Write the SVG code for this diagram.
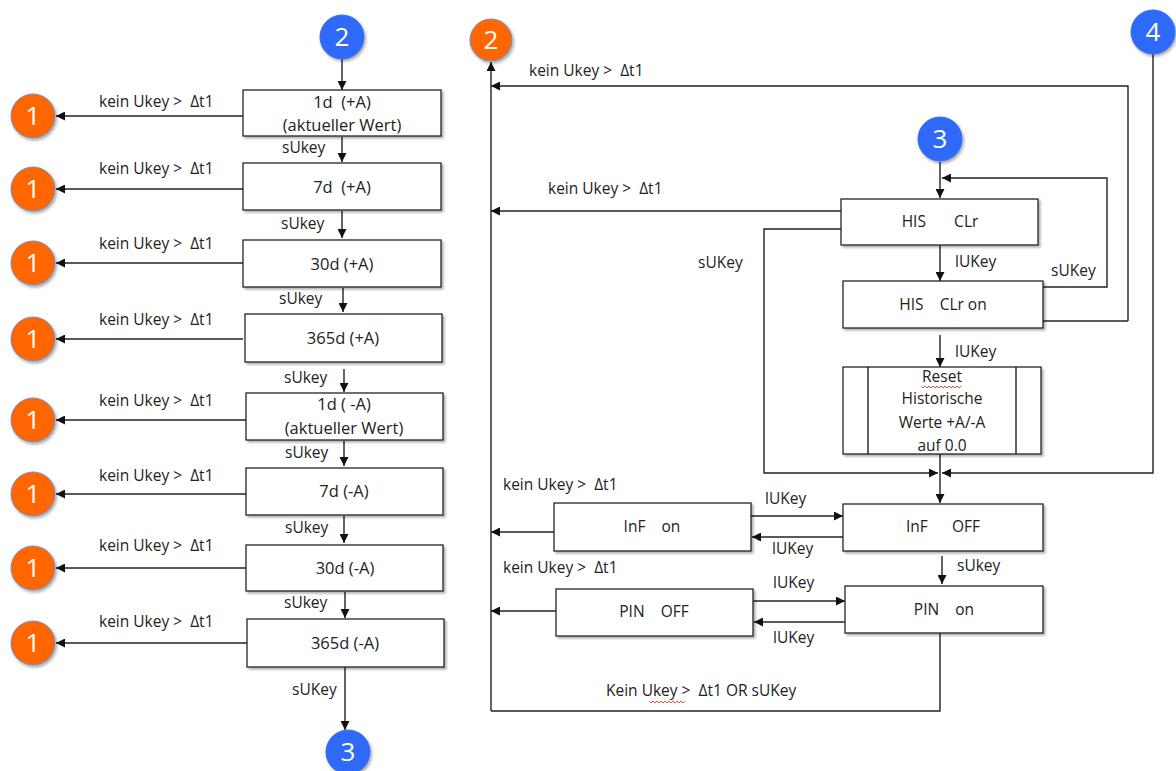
<svg xmlns="http://www.w3.org/2000/svg" width="1176" height="771" viewBox="0 0 1176 771">
<defs>
<marker id="ah" viewBox="0 0 10 10" refX="10" refY="5" markerWidth="9" markerHeight="9" markerUnits="userSpaceOnUse" orient="auto"><path d="M0,0 L10,5 L0,10 z" fill="#111"/></marker>
<filter id="sh" x="-5%" y="-10%" width="115%" height="130%"><feDropShadow dx="2" dy="2" stdDeviation="1.2" flood-color="#000" flood-opacity="0.3"/></filter>
<filter id="csh" x="-20%" y="-20%" width="150%" height="150%"><feDropShadow dx="1.5" dy="2" stdDeviation="1.5" flood-color="#000" flood-opacity="0.35"/></filter>
</defs>
<style>
.box{fill:#fff;stroke:#222;stroke-width:1.3;filter:url(#sh)}
.t{font-family:"Open Sans","Liberation Sans",Arial,sans-serif;font-size:15.5px;fill:#222}
.b{font-size:16.5px}
.c{text-anchor:middle}
.ln{fill:none;stroke:#222;stroke-width:1.4}
.ar{fill:none;stroke:#222;stroke-width:1.4;marker-end:url(#ah)}
.ob{fill:#ff6600;stroke:#6f8fc9;stroke-width:1;filter:url(#csh)}
.bb{fill:#2f6bf7;stroke:#2f6bf7;stroke-width:1;filter:url(#csh)}
.ct{font-family:"Open Sans","Liberation Sans",Arial,sans-serif;font-size:26px;fill:#fff;text-anchor:middle}
.sq{fill:none;stroke:#e02020;stroke-width:0.8}
</style>
<g id="connectors">
<path class="ar" d="M342,59 V90"/>
<path class="ar" d="M342,137 V162"/>
<path class="ar" d="M342,211 V238"/>
<path class="ar" d="M343,288 V312"/>
<path class="ar" d="M344,369 V392"/>
<path class="ar" d="M344,441 V466"/>
<path class="ar" d="M344,516 V543"/>
<path class="ar" d="M345,592 V618"/>
<path class="ar" d="M345,667 V730"/>
<path class="ar" d="M243,116 H56"/>
<path class="ar" d="M243,189 H56"/>
<path class="ar" d="M243,263 H56"/>
<path class="ar" d="M243,339 H56"/>
<path class="ar" d="M246,420 H56"/>
<path class="ar" d="M246,494 H56"/>
<path class="ar" d="M246,568 H56"/>
<path class="ar" d="M247,643 H56"/>
<path class="ar" d="M491,711 V62"/>
<path class="ar" d="M1128,321 V86 H491"/>
<path class="ln" d="M1043,321 H1128"/>
<path class="ar" d="M940,162 V198"/>
<path class="ar" d="M1043,287 H1107 V178 H942"/>
<path class="ar" d="M841,211 H491"/>
<path class="ar" d="M841,229 H764 V473 H938"/>
<path class="ar" d="M1153,54 V473 H942"/>
<path class="ar" d="M940,245 V281"/>
<path class="ar" d="M940,335 V367"/>
<path class="ar" d="M940,454 V503"/>
<path class="ar" d="M751,516 H843"/>
<path class="ar" d="M843,537 H752"/>
<path class="ar" d="M554,532 H491"/>
<path class="ar" d="M942,556 V584"/>
<path class="ar" d="M753,601 H845"/>
<path class="ar" d="M845,622 H754"/>
<path class="ar" d="M556,611 H491"/>
<path class="ln" d="M940,633 V711 H491"/>
</g>
<g id="edge-labels">
<text class="t" x="99" y="107">kein Ukey &gt;&#160; Δt1</text>
<text class="t" x="99" y="174">kein Ukey &gt;&#160; Δt1</text>
<text class="t" x="99" y="249">kein Ukey &gt;&#160; Δt1</text>
<text class="t" x="99" y="325">kein Ukey &gt;&#160; Δt1</text>
<text class="t" x="99" y="406">kein Ukey &gt;&#160; Δt1</text>
<text class="t" x="99" y="481">kein Ukey &gt;&#160; Δt1</text>
<text class="t" x="99" y="551">kein Ukey &gt;&#160; Δt1</text>
<text class="t" x="99" y="627">kein Ukey &gt;&#160; Δt1</text>
<text class="t" x="282" y="153">sUkey</text>
<text class="t" x="281" y="229">sUkey</text>
<text class="t" x="279" y="304">sUkey</text>
<text class="t" x="284" y="383">sUkey</text>
<text class="t" x="285" y="458">sUkey</text>
<text class="t" x="285" y="533">sUkey</text>
<text class="t" x="284" y="608">sUkey</text>
<text class="t" x="292" y="695">sUKey</text>
<text class="t" x="529" y="76">kein Ukey &gt;&#160; Δt1</text>
<text class="t" x="548" y="194">kein Ukey &gt;&#160; Δt1</text>
<text class="t" x="698" y="268">sUKey</text>
<text class="t" x="1051" y="276">sUKey</text>
<text class="t" x="955" y="267">lUKey</text>
<text class="t" x="955" y="357">lUKey</text>
<text class="t" x="503" y="490">kein Ukey &gt;&#160; Δt1</text>
<text class="t" x="765" y="504">lUKey</text>
<text class="t" x="772" y="554">lUKey</text>
<text class="t" x="957" y="571">sUkey</text>
<text class="t" x="503" y="573">kein Ukey &gt;&#160; Δt1</text>
<text class="t" x="773" y="588">lUKey</text>
<text class="t" x="773" y="643">lUKey</text>
<text class="t" x="606" y="696">Kein Ukey &gt;&#160; Δt1 OR sUKey</text>
<path class="sq" d="M649,701 l2,2 l2,-2 l2,2 l2,-2 l2,2 l2,-2 l2,2 l2,-2 l2,2 l2,-2 l2,2 l2,-2 l2,2 l2,-2 l2,2 l2,-2 l2,2 l2,-2"/>
</g>
<g id="n-c2-top"><circle class="bb" cx="342" cy="37" r="22"/><text class="ct" x="342" y="46">2</text></g>
<g id="n-c3-bottom"><circle class="bb" cx="348" cy="752" r="22"/><text class="ct" x="348" y="761">3</text></g>
<g id="n-o1-a"><circle class="ob" cx="33" cy="116" r="22"/><text class="ct" x="33" y="125">1</text></g>
<g id="n-o1-b"><circle class="ob" cx="33" cy="189" r="22"/><text class="ct" x="33" y="198">1</text></g>
<g id="n-o1-c"><circle class="ob" cx="33" cy="263" r="22"/><text class="ct" x="33" y="272">1</text></g>
<g id="n-o1-d"><circle class="ob" cx="33" cy="339" r="22"/><text class="ct" x="33" y="348">1</text></g>
<g id="n-o1-e"><circle class="ob" cx="33" cy="420" r="22"/><text class="ct" x="33" y="429">1</text></g>
<g id="n-o1-f"><circle class="ob" cx="33" cy="494" r="22"/><text class="ct" x="33" y="503">1</text></g>
<g id="n-o1-g"><circle class="ob" cx="33" cy="568" r="22"/><text class="ct" x="33" y="577">1</text></g>
<g id="n-o1-h"><circle class="ob" cx="33" cy="643" r="22"/><text class="ct" x="33" y="652">1</text></g>
<g id="n-1d-plus"><rect class="box" x="243" y="90" width="198" height="46"/><text class="t b c" x="342" y="108">1d&#160; (+A)</text><text class="t b c" x="342" y="131">(aktueller Wert)</text></g>
<g id="n-7d-plus"><rect class="box" x="243" y="163" width="198" height="47"/><text class="t b c" x="342" y="193">7d&#160; (+A)</text></g>
<g id="n-30d-plus"><rect class="box" x="243" y="240" width="198" height="47"/><text class="t b c" x="342" y="270">30d (+A)</text></g>
<g id="n-365d-plus"><rect class="box" x="245" y="314" width="197" height="48"/><text class="t b c" x="343" y="344">365d (+A)</text></g>
<g id="n-1d-minus"><rect class="box" x="246" y="393" width="197" height="47"/><text class="t b c" x="344" y="410">1d ( -A)</text><text class="t b c" x="344" y="434">(aktueller Wert)</text></g>
<g id="n-7d-minus"><rect class="box" x="246" y="468" width="197" height="47"/><text class="t b c" x="344" y="497">7d (-A)</text></g>
<g id="n-30d-minus"><rect class="box" x="246" y="545" width="197" height="46"/><text class="t b c" x="345" y="574">30d (-A)</text></g>
<g id="n-365d-minus"><rect class="box" x="247" y="619" width="197" height="48"/><text class="t b c" x="345" y="649">365d (-A)</text></g>
<g id="n-o2-right"><circle class="ob" cx="491" cy="40" r="21"/><text class="ct" x="491" y="49">2</text></g>
<g id="n-c4"><circle class="bb" cx="1153" cy="32" r="22"/><text class="ct" x="1153" y="41">4</text></g>
<g id="n-c3-right"><circle class="bb" cx="940" cy="139" r="22"/><text class="ct" x="940" y="148">3</text></g>
<g id="n-his-clr"><rect class="box" x="841" y="199" width="197" height="46"/><text class="t c" x="940" y="227">HIS&#160;&#160;&#160;&#160;&#160;&#160; CLr</text></g>
<g id="n-his-clr-on"><rect class="box" x="843" y="281" width="200" height="47"/><text class="t c" x="943" y="310">HIS&#160;&#160;&#160; CLr on</text></g>
<g id="n-reset"><rect class="box" x="843" y="367" width="198" height="87"/><path class="ln" d="M868,367 V454 M1016,367 V454"/>
<text class="t c" x="942" y="382">Reset</text><path class="sq" d="M921,386 l2,2 l2,-2 l2,2 l2,-2 l2,2 l2,-2 l2,2 l2,-2 l2,2 l2,-2 l2,2 l2,-2 l2,2 l2,-2 l2,2 l2,-2 l2,2 l2,-2 l2,2 l2,-2"/>
<text class="t c" x="942" y="404">Historische</text><text class="t c" x="942" y="428">Werte +A/-A</text><text class="t c" x="942" y="451">auf 0.0</text></g>
<g id="n-inf-off"><rect class="box" x="843" y="504" width="200" height="47"/><text class="t c" x="943" y="532">InF&#160;&#160;&#160;&#160;&#160; OFF</text></g>
<g id="n-inf-on"><rect class="box" x="554" y="503" width="197" height="48"/><text class="t c" x="652" y="532">InF&#160;&#160;&#160; on</text></g>
<g id="n-pin-on"><rect class="box" x="845" y="586" width="198" height="47"/><text class="t c" x="944" y="615">PIN&#160;&#160;&#160; on</text></g>
<g id="n-pin-off"><rect class="box" x="556" y="589" width="197" height="47"/><text class="t c" x="654" y="617">PIN&#160;&#160;&#160; OFF</text></g>
</svg>
